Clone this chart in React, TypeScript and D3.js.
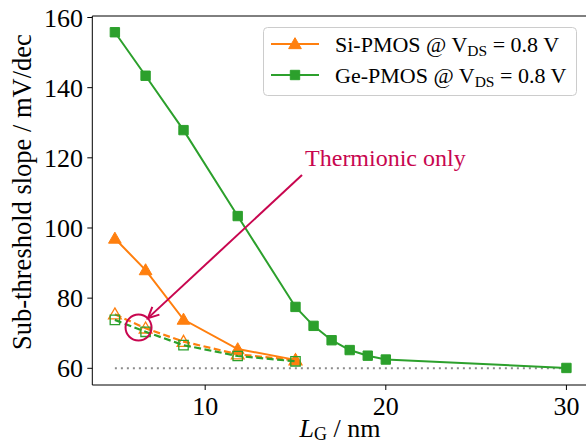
import React from "react";
import * as d3 from "d3";

const lengthsGe = [5, 6.7, 8.8, 11.8, 15, 16, 17, 18, 19, 20, 30];
const geSolid = [155.8, 143.4, 127.9, 103.4, 77.5, 72.1, 68.0, 65.2, 63.6, 62.5, 60.1];
const lengthsSi = [5, 6.7, 8.8, 11.8, 15];
const siSolid = [97.0, 88.0, 73.9, 65.5, 62.4];
const siDashed = [75.4, 71.4, 67.6, 64.0, 62.3];
const geDashed = [73.8, 70.4, 66.6, 63.5, 62.0];
const thermionicX = [5, 30];
const thermionicY = [60, 60];
const xTicks = [10, 20, 30];
const yTicks = [60, 80, 100, 120, 140, 160];

const W = 586;
const H = 445;
const ORANGE = "#ff7f0e";
const GREEN = "#2ca02c";
const CRIMSON = "#c8064f";
const FONT = "'Liberation Serif', 'DejaVu Serif', serif";

const x = d3.scaleLinear().domain([3.75, 31.25]).range([92.3, 589]);
const y = d3.scaleLinear().domain([55.24, 160.43]).range([385, 16]);

function linePath(xs: number[], ys: number[]) {
  const gen = d3
    .line<number>()
    .x((_, i) => x(xs[i]))
    .y((d) => y(d));
  return gen(ys) || "";
}

const tri = d3.symbol().type(d3.symbolTriangle).size(70);
const sq = d3.symbol().type(d3.symbolSquare).size(88);

function Markers({ xs, ys, kind, color, hollow }: any) {
  const p = kind === "tri" ? tri() : sq();
  return (
    <g>
      {ys.map((v: number, i: number) => (
        <path
          key={i}
          d={p || ""}
          transform={`translate(${x(xs[i])},${y(v) + (kind === "tri" ? 1 : 0)})`}
          fill={hollow ? "none" : color}
          stroke={color}
          strokeWidth={hollow ? 1.3 : 1}
        />
      ))}
    </g>
  );
}

export default function App() {
  const tipX = x(6.83);
  const tipY = y(74.3);
  const startX = x(15.36);
  const startY = y(115.1);
  const ang = Math.atan2(startY - tipY, startX - tipX);
  const headLen = 12;
  const spread = 0.45;
  const h1 = [tipX + headLen * Math.cos(ang - spread), tipY + headLen * Math.sin(ang - spread)];
  const h2 = [tipX + headLen * Math.cos(ang + spread), tipY + headLen * Math.sin(ang + spread)];

  return (
    <svg
      width={W}
      height={H}
      style={{ position: "absolute", left: 0, top: 0, background: "#fff" }}
      fontFamily={FONT}
    >
      <defs>
        <clipPath id="plot">
          <rect x={92.3} y={16} width={W - 92.3} height={385 - 16} />
        </clipPath>
      </defs>

      {/* thermionic dotted line */}
      <path
        d={linePath(thermionicX, thermionicY)}
        fill="none"
        stroke="#8c8c8c"
        strokeWidth={2}
        strokeDasharray="2,4"
      />

      <g clipPath="url(#plot)">
        <path d={linePath(lengthsSi, siSolid)} fill="none" stroke={ORANGE} strokeWidth={2} />
        <Markers xs={lengthsSi} ys={siSolid} kind="tri" color={ORANGE} />
        <path d={linePath(lengthsGe, geSolid)} fill="none" stroke={GREEN} strokeWidth={2} />
        <Markers xs={lengthsGe} ys={geSolid} kind="sq" color={GREEN} />
        <path
          d={linePath(lengthsSi, siDashed)}
          fill="none"
          stroke={ORANGE}
          strokeWidth={2.2}
          strokeDasharray="7,3.5"
        />
        <Markers xs={lengthsSi} ys={siDashed} kind="tri" color={ORANGE} hollow />
        <path
          d={linePath(lengthsSi, geDashed)}
          fill="none"
          stroke={GREEN}
          strokeWidth={2.2}
          strokeDasharray="7,3.5"
        />
        <Markers xs={lengthsSi} ys={geDashed} kind="sq" color={GREEN} hollow />
      </g>

      {/* annotation */}
      <circle cx={x(6.31)} cy={y(71.6)} r={13} fill="none" stroke={CRIMSON} strokeWidth={2} />
      <line x1={startX} y1={startY} x2={tipX} y2={tipY} stroke={CRIMSON} strokeWidth={2} />
      <polyline
        points={`${h1[0]},${h1[1]} ${tipX},${tipY} ${h2[0]},${h2[1]}`}
        fill="none"
        stroke={CRIMSON}
        strokeWidth={2}
      />
      <text x={x(15.53)} y={y(117.67)} fontSize={24} fill={CRIMSON}>
        Thermionic only
      </text>

      {/* axes frame */}
      <line x1={92.3} y1={385} x2={W} y2={385} stroke="#000" strokeWidth={1} />
      <line x1={92.3} y1={16} x2={W} y2={16} stroke="#000" strokeWidth={1} />
      <line x1={92.3} y1={16} x2={92.3} y2={385} stroke="#000" strokeWidth={1} />

      {xTicks.map((t) => (
        <g key={t}>
          <line x1={x(t)} x2={x(t)} y1={385} y2={390} stroke="#000" />
          <text x={x(t)} y={415} textAnchor="middle" fontSize={26}>
            {t}
          </text>
        </g>
      ))}
      {yTicks.map((t) => (
        <g key={t}>
          <line x1={87.3} x2={92.3} y1={y(t)} y2={y(t)} stroke="#000" />
          <text x={83} y={y(t) + 9} textAnchor="end" fontSize={26}>
            {t}
          </text>
        </g>
      ))}

      {/* axis labels */}
      <text x={340} y={437} textAnchor="middle" fontSize={26}>
        <tspan fontStyle="italic">L</tspan>
        <tspan fontSize={18} dy={3}>G</tspan>
        <tspan dy={-3}> / nm</tspan>
      </text>
      <text
        transform={`translate(31,192) rotate(-90)`}
        textAnchor="middle"
        fontSize={26.5}
      >
        Sub-threshold slope / mV/dec
      </text>

      {/* legend */}
      <rect
        x={263.5}
        y={27.5}
        width={313}
        height={68}
        rx={4}
        fill="#fff"
        fillOpacity={0.8}
        stroke="#cccccc"
        strokeWidth={1}
      />
      <line x1={271} x2={319} y1={44} y2={44} stroke={ORANGE} strokeWidth={2} />
      <path d={tri() || ""} transform={`translate(295,45)`} fill={ORANGE} stroke={ORANGE} />
      <text x={335} y={52} fontSize={22}>
        Si-PMOS @ V<tspan fontSize={15.5} dy={4}>DS</tspan>
        <tspan dy={-4}> = 0.8 V</tspan>
      </text>
      <line x1={271} x2={319} y1={75} y2={75} stroke={GREEN} strokeWidth={2} />
      <path d={sq() || ""} transform={`translate(295,75)`} fill={GREEN} stroke={GREEN} />
      <text x={335} y={83} fontSize={22}>
        Ge-PMOS @ V<tspan fontSize={15.5} dy={4}>DS</tspan>
        <tspan dy={-4}> = 0.8 V</tspan>
      </text>
    </svg>
  );
}
